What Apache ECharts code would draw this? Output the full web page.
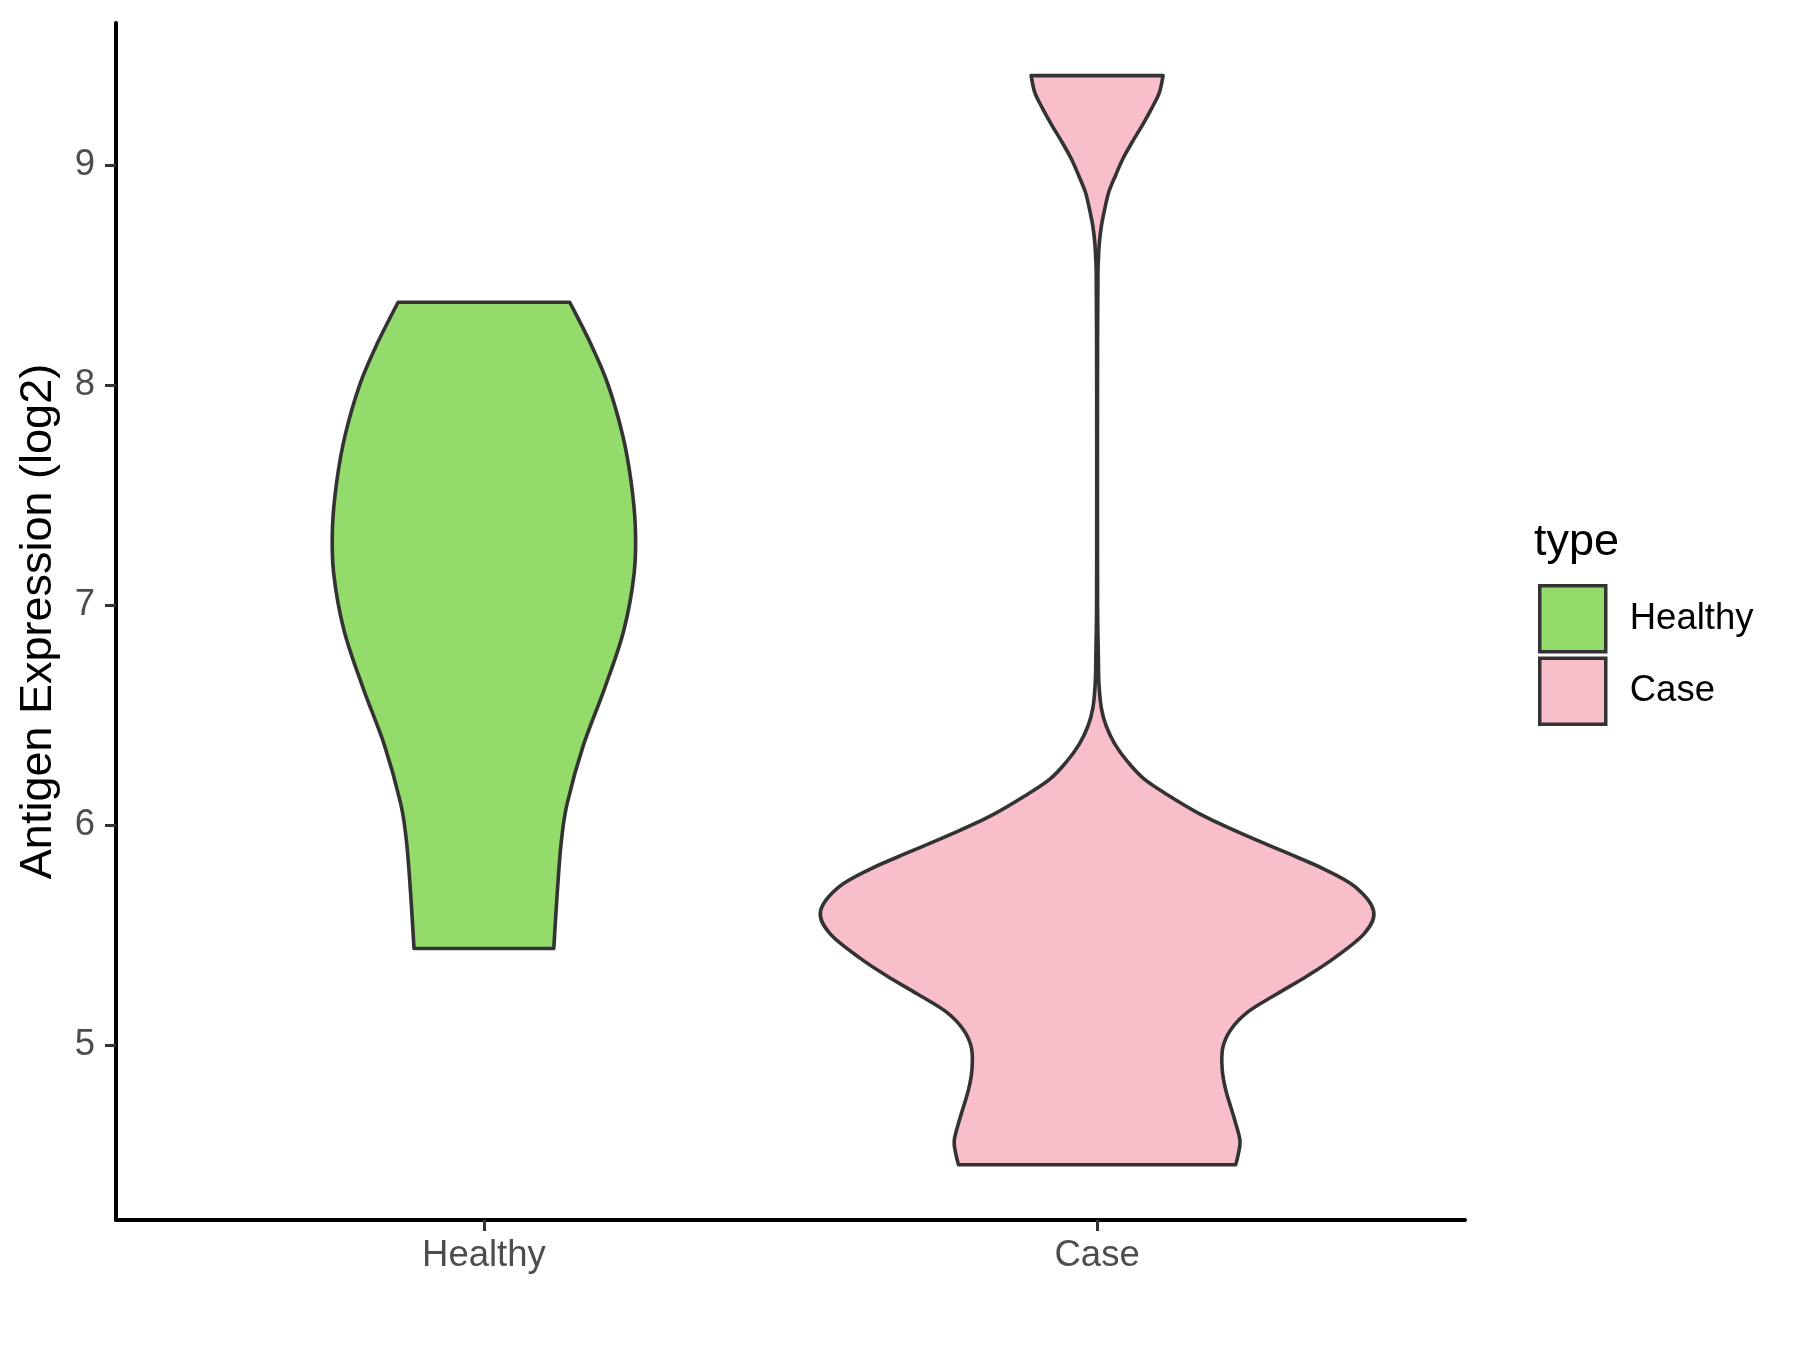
<!DOCTYPE html>
<html>
<head>
<meta charset="utf-8">
<script src="https://cdn.jsdelivr.net/npm/echarts@6/dist/echarts.min.js"></script>
<style>
html,body{margin:0;padding:0;background:#fff;}
#chart{width:1800px;height:1350px;}
</style>
</head>
<body>
<div id="chart"></div>
<script>
// ---- data ----
const categories = ['Healthy', 'Case'];
const yTicks = [5, 6, 7, 8, 9];
const fillColors = ['#93DB6A', '#F8BFCB'];

// Healthy violin: expression values (top -> bottom) and half-widths of the density outline
const healthyY = [8.376, 8.188, 8.005, 7.770, 7.561, 7.352, 7.143, 6.883, 6.622, 6.361, 6.101, 5.944, 5.788, 5.579, 5.439];
const healthyW = [0.140, 0.174, 0.202, 0.2265, 0.240, 0.247, 0.245, 0.228, 0.197, 0.162, 0.136, 0.127, 0.122, 0.117, 0.114];

// Case violin
const caseY = [9.406, 9.330, 9.255, 9.179, 9.103, 9.027, 8.951, 8.876, 8.800, 8.724, 8.649, 8.573, 8.497, 8.2, 7.8, 7.4, 7.0,
               6.774, 6.644, 6.530, 6.449, 6.368, 6.287, 6.206, 6.125, 6.044, 5.962, 5.881, 5.800, 5.719, 5.609,
               5.508, 5.394, 5.313, 5.232, 5.151, 5.070, 4.988, 4.891, 4.794, 4.664, 4.566, 4.501, 4.456];
const caseW = [0.1076, 0.1017, 0.0886, 0.0734, 0.0571, 0.0419, 0.0299, 0.0190, 0.0125, 0.0071, 0.0038, 0.0022, 0.0014, 0.0008, 0.0006, 0.0006, 0.0008,
               0.002, 0.003, 0.007, 0.015, 0.029, 0.050, 0.078, 0.122, 0.172, 0.235, 0.303, 0.370, 0.421, 0.451,
               0.436, 0.386, 0.342, 0.293, 0.246, 0.218, 0.205, 0.204, 0.210, 0.224, 0.233, 0.230, 0.226];

// ---- rendering helpers ----
function crPath(pts) {
  let d = '';
  for (let i = 0; i < pts.length - 1; i++) {
    const p0 = pts[Math.max(0, i - 1)], p1 = pts[i], p2 = pts[i + 1], p3 = pts[Math.min(pts.length - 1, i + 2)];
    const c1 = [p1[0] + (p2[0] - p0[0]) / 6, p1[1] + (p2[1] - p0[1]) / 6];
    const c2 = [p2[0] - (p3[0] - p1[0]) / 6, p2[1] - (p3[1] - p1[1]) / 6];
    d += ' C' + c1[0].toFixed(2) + ' ' + c1[1].toFixed(2) + ' ' + c2[0].toFixed(2) + ' ' + c2[1].toFixed(2) + ' ' + p2[0].toFixed(2) + ' ' + p2[1].toFixed(2);
  }
  return d;
}

function violinRenderer(ys, ws, xc, fill) {
  return function (params, api) {
    if (params.dataIndex !== 0) return null;
    const right = ys.map((y, i) => api.coord([xc + ws[i], y]));
    const left = ys.map((y, i) => api.coord([xc - ws[i], y])).reverse();
    let d = 'M' + right[0][0].toFixed(2) + ' ' + right[0][1].toFixed(2) + crPath(right);
    d += ' L' + left[0][0].toFixed(2) + ' ' + left[0][1].toFixed(2) + crPath(left) + ' Z';
    return {
      type: 'path',
      shape: { pathData: d },
      style: { fill: fill, stroke: '#333333', lineWidth: 3.6, lineJoin: 'round' }
    };
  };
}

const chart = echarts.init(document.getElementById('chart'), null, { renderer: 'canvas' });
const FONT = '"Liberation Sans", Arial, Helvetica, sans-serif';

const option = {
  backgroundColor: '#ffffff',
  animation: false,
  textStyle: { fontFamily: FONT },
  title: {
    text: 'type',
    left: 1534,
    top: 520,
    padding: 0,
    textStyle: { fontSize: 45, fontWeight: 'normal', color: '#000000', fontFamily: FONT }
  },
  legend: {
    orient: 'vertical',
    left: 1538,
    top: 584,
    padding: 0,
    itemWidth: 66,
    itemHeight: 66,
    itemGap: 3,
    data: [{ name: categories[0], icon: 'rect' }, { name: categories[1], icon: 'rect' }],
    itemStyle: { borderColor: '#333333', borderWidth: 3.5 },
    textStyle: { fontSize: 36.5, color: '#000000', fontFamily: FONT, padding: [0, 0, 0, 19] }
  },
  grid: { left: 116, right: 335, top: 23, bottom: 130, containLabel: false },
  xAxis: {
    type: 'value',
    min: 0.4,
    max: 2.6,
    splitLine: { show: false },
    axisLine: { show: true, onZero: false, lineStyle: { color: '#000000', width: 4 } },
    axisTick: { show: true, length: 11, customValues: [1, 2], lineStyle: { color: '#333333', width: 3 } },
    axisLabel: {
      show: true, customValues: [1, 2], margin: 17,
      fontSize: 36.5, color: '#4D4D4D', fontFamily: FONT,
      formatter: v => categories[Math.round(v) - 1]
    }
  },
  yAxis: {
    type: 'value',
    min: 4.205,
    max: 9.645,
    name: 'Antigen Expression (log2)',
    nameLocation: 'middle',
    nameGap: 55,
    nameRotate: 90,
    nameTextStyle: { fontSize: 45, color: '#000000', fontFamily: FONT },
    splitLine: { show: false },
    axisLine: { show: true, onZero: false, lineStyle: { color: '#000000', width: 4 } },
    axisTick: { show: true, length: 11, customValues: yTicks, lineStyle: { color: '#333333', width: 3 } },
    axisLabel: { show: true, customValues: yTicks, margin: 21, fontSize: 36.5, color: '#4D4D4D', fontFamily: FONT }
  },
  series: [
    {
      name: categories[0],
      type: 'custom',
      coordinateSystem: 'cartesian2d',
      clip: false,
      itemStyle: { color: fillColors[0], borderColor: '#333333', borderWidth: 3.5 },
      renderItem: violinRenderer(healthyY, healthyW, 1, fillColors[0]),
      data: [[1, healthyY[0]]]
    },
    {
      name: categories[1],
      type: 'custom',
      coordinateSystem: 'cartesian2d',
      clip: false,
      itemStyle: { color: fillColors[1], borderColor: '#333333', borderWidth: 3.5 },
      renderItem: violinRenderer(caseY, caseW, 2, fillColors[1]),
      data: [[2, caseY[0]]]
    }
  ]
};
chart.setOption(option);
</script>
</body>
</html>
